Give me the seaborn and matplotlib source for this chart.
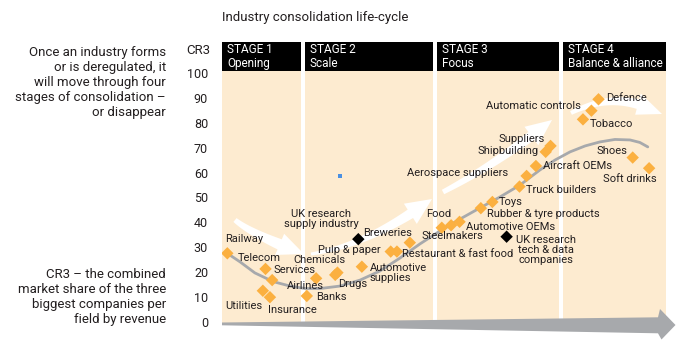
import numpy as np
import pandas as pd
import matplotlib
matplotlib.use("Agg")
import matplotlib.pyplot as plt
import seaborn as sns
from matplotlib.patches import Polygon, Rectangle

# ---------------- data ----------------
industries = ["Railway", "Telecom", "Services", "Utilities", "Insurance", "Banks",
              "Airlines", "Chemicals", "Drugs", "Automotive\nsupplies", "Pulp & paper",
              "Restaurant & fast food", "Breweries", "Food", "Steelmakers",
              "Automotive OEMs", "Rubber & tyre products", "Toys", "Truck builders",
              "Aerospace suppliers", "Aircraft OEMs", "Shipbuilding", "Suppliers",
              "Automatic controls", "Defence", "Tobacco", "Shoes", "Soft drinks"]
maturity = [1.2, 9.8, 11.3, 9.2, 10.8, 19.1,
            21.2, 25.5, 26.0, 31.5, 38.0,
            39.4, 42.3, 49.5, 51.6,
            53.5, 58.3, 60.9, 67.0,
            68.6, 70.7, 72.9, 74.0,
            83.2, 84.8, 81.3, 92.5, 96.2]
cr3 = [27.5, 21.2, 16.7, 12.4, 9.8, 10.3,
       17.4, 18.8, 19.7, 22.1, 28.2,
       28.2, 31.8, 37.8, 38.8,
       40.2, 45.7, 48.2, 54.4,
       58.7, 62.7, 68.4, 70.8,
       85.0, 89.6, 81.5, 66.1, 61.8]

research_groups = ["UK research\nsupply industry", "UK research\ntech & data\ncompanies"]
research_maturity = [30.7, 64.1]
research_cr3 = [33.2, 34.2]

stray_maturity = [26.6]
stray_cr3 = [58.8]

curve_maturity = [1.1, 4.1, 7.4, 11.5, 15.3, 18.7, 22.1, 26.6, 31.1, 35.6, 40.1,
                  44.6, 49.1, 53.6, 58.1, 62.6, 67.1, 71.6, 75.0, 78.4, 81.8,
                  85.1, 88.5, 91.9, 94.1, 95.9]
curve_cr3 = [27.6, 24.0, 19.6, 16.1, 14.3, 13.3, 13.3, 14.3, 16.7, 20.4, 25.6,
             31.3, 36.5, 41.3, 45.8, 50.2, 55.0, 61.1, 65.1, 68.4, 70.8,
             72.4, 73.4, 73.2, 72.2, 70.4]

stage_titles = ["STAGE 1\nOpening", "STAGE 2\nScale", "STAGE 3\nFocus", "STAGE 4\nBalance & alliance"]
stage_start = [0, 18.7, 48.4, 76.9]
stage_end = [17.8, 47.5, 75.9, 100]
y_ticks = list(range(0, 101, 10))

title = "Industry consolidation life-cycle"
note_top = "Once an industry forms\nor is deregulated, it\nwill move through four\nstages of consolidation –\nor disappear"
note_bottom = "CR3 – the combined\nmarket share of the three\nbiggest companies per\nfield by revenue"

# ---------------- label placement (offset pixels, alignment) ----------------
label_pos = {
    "Railway": (-2, 14, "left"), "Telecom": (-28, 11, "left"), "Services": (1, 10, "left"),
    "Utilities": (-38, -15, "left"), "Insurance": (-2, -13, "left"), "Banks": (9, -1, "left"),
    "Airlines": (-11, -8, "center"), "Chemicals": (-16, 15, "center"), "Drugs": (1, -11, "left"),
    "Automotive\nsupplies": (8, -6, "left"), "Pulp & paper": (-10, 2, "right"),
    "Restaurant & fast food": (5, -2, "left"), "Breweries": (2, 10, "right"),
    "Food": (-16, 14, "left"), "Steelmakers": (1, -11, "center"),
    "Automotive OEMs": (6, -5, "left"), "Rubber & tyre products": (6, -6, "left"),
    "Toys": (6, 0, "left"), "Truck builders": (7, -3, "left"),
    "Aerospace suppliers": (-18, 3, "right"), "Aircraft OEMs": (7, 0, "left"),
    "Shipbuilding": (-7, 1, "right"), "Suppliers": (-6, 7, "right"),
    "Automatic controls": (-11, 5, "right"), "Defence": (8, 1, "left"),
    "Tobacco": (7, -5, "left"), "Shoes": (-5, 7, "right"), "Soft drinks": (7, -11, "right"),
    "UK research\nsupply industry": (-37, 20, "center"),
    "UK research\ntech & data\ncompanies": (39, -13, "center"),
}

W, H = 682, 346
TXT = "#231f20"
BEIGE = "#fdebd0"
ORANGE = "#fbb040"
GREY = "#a7a9ac"

sns.set_style("white")
plt.rcParams["font.family"] = ["Roboto", "DejaVu Sans"]
plt.rcParams["text.color"] = TXT

fig = plt.figure(figsize=(W / 100, H / 100), dpi=100)
ax = fig.add_axes([222 / W, 23 / H, 444 / W, 252 / H])
ax.set_facecolor("white")

def fig_xy(pts):
    pts = np.asarray(pts, dtype=float)
    return np.column_stack([pts[:, 0] / W, 1 - pts[:, 1] / H])

# stage panels + headers
for t, s, e in zip(stage_titles, stage_start, stage_end):
    ax.axvspan(s, e, color=BEIGE, zorder=0.2, lw=0)
    ax.add_patch(Rectangle((s, 1.001), e - s, 0.115, transform=ax.get_xaxis_transform(),
                           facecolor="black", edgecolor="none", clip_on=False, zorder=3))
    ax.text(s + 1.1, 1.057, t, transform=ax.get_xaxis_transform(), color="white",
            fontsize=8.5, va="center", ha="left", linespacing=1.05, zorder=4)

# white tapered arrows (decoration)
def tapered_arrow(p0, p1, p2, w_tail, w_neck, head_w, head_len):
    P0, P1, P2 = (np.array(p, dtype=float) for p in (p0, p1, p2))
    t = np.linspace(0, 1, 400)[:, None]
    pts = (1 - t) ** 2 * P0 + 2 * (1 - t) * t * P1 + t ** 2 * P2
    s = np.concatenate([[0], np.cumsum(np.hypot(*np.diff(pts, axis=0).T))])
    L = s[-1]
    m = s <= L - head_len
    tang = np.gradient(pts, axis=0)
    tang /= np.linalg.norm(tang, axis=1)[:, None]
    nrm = np.column_stack([-tang[:, 1], tang[:, 0]])
    body, nb, sb = pts[m], nrm[m], s[m]
    w = w_tail + (w_neck - w_tail) * sb / (L - head_len)
    left = body + nb * (w / 2)[:, None]
    right = body - nb * (w / 2)[:, None]
    base = body[-1]
    return np.vstack([left, base + nb[-1] * head_w / 2, P2, base - nb[-1] * head_w / 2, right[::-1]])

arrows = [
    ((235, 220), (253, 235), (304, 254), 5, 11, 23, 26),
    ((311, 254), (369, 245), (432, 199), 3, 10, 24, 26),
    ((443, 192), (497, 164), (552, 120), 5, 10, 23, 26),
    ((571, 113), (618, 89), (662, 114), 4, 10, 22, 26),
]
for a in arrows:
    poly = tapered_arrow(*a)
    ax.add_patch(Polygon(fig_xy(poly), closed=True, transform=fig.transFigure,
                         facecolor="white", edgecolor="none", zorder=1))

# bottom grey arrow (time axis)
bottom_arrow = [(222, 322.5), (658, 317.3), (660, 309), (675.5, 325), (661.5, 339.5),
                (658, 333.3), (222, 325.3)]
ax.add_patch(Polygon(fig_xy(bottom_arrow), closed=True, transform=fig.transFigure,
                     facecolor=GREY, edgecolor="none", clip_on=False, zorder=1))

# life-cycle curve
sns.lineplot(x=curve_maturity, y=curve_cr3, ax=ax, color=GREY, lw=2.0, zorder=2,
             sort=False, estimator=None)

# industries
df = pd.DataFrame({"industry": industries, "maturity": maturity, "cr3": cr3})
sns.scatterplot(data=df, x="maturity", y="cr3", ax=ax, marker="D", s=40,
                color=ORANGE, edgecolor="none", zorder=5)
rdf = pd.DataFrame({"group": research_groups, "maturity": research_maturity, "cr3": research_cr3})
sns.scatterplot(data=rdf, x="maturity", y="cr3", ax=ax, marker="D", s=40,
                color="black", edgecolor="none", zorder=5)
sns.scatterplot(x=stray_maturity, y=stray_cr3, ax=ax, marker="s", s=9,
                color="#4a90e2", edgecolor="none", zorder=5)

for name, x, y in list(zip(industries, maturity, cr3)) + list(zip(research_groups, research_maturity, research_cr3)):
    dx, dy, ha = label_pos[name]
    ax.annotate(name, (x, y), xytext=(dx, dy), textcoords="offset pixels",
                ha=ha, va="center", fontsize=8, color=TXT, zorder=6,
                linespacing=1.0, multialignment="center" if ha == "center" else "left")

ax.set_xlim(0, 100)
ax.set_ylim(-0.6, 101)
ax.set_xticks([])
ax.set_yticks(y_ticks)
ax.tick_params(axis="y", length=7, width=1.2, color="#b0b0b0", pad=3,
               labelsize=9, labelcolor=TXT, direction="out")
for sp in ax.spines.values():
    sp.set_visible(False)
ax.set_xlabel("")
ax.set_ylabel("")
if ax.get_legend():
    ax.get_legend().remove()

fig.text(210 / W, 1 - 50 / H, "CR3", ha="right", va="center", fontsize=9.5)
fig.text(222 / W, 1 - 18 / H, title, ha="left", va="center", fontsize=9.5)
fig.text(166 / W, 1 - 82.5 / H, note_top, ha="right", va="center", fontsize=9.5, linespacing=1.18)
fig.text(166 / W, 1 - 297.2 / H, note_bottom, ha="right", va="center", fontsize=9.5, linespacing=1.18)

fig.savefig("out.png", dpi=100)
